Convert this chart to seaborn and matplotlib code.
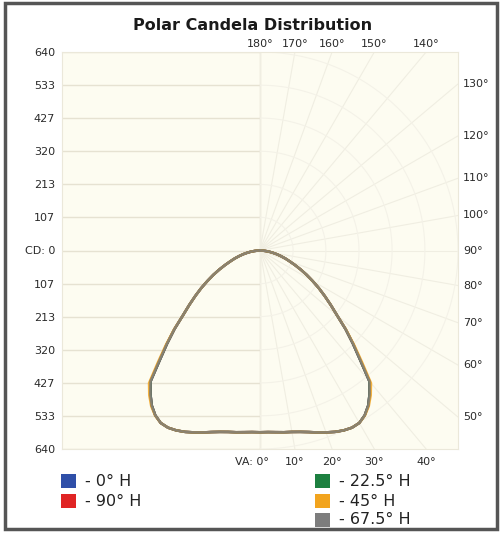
import numpy as np
import pandas as pd
import matplotlib
matplotlib.use('Agg')
import matplotlib.pyplot as plt
import seaborn as sns
from matplotlib.patches import Rectangle

# vertical angles in degrees (0 = straight down, 180 = straight up)
vertical_angles = [0, 2.5, 5, 7.5, 10, 12.5, 15, 17.5, 20, 22.5, 25, 27.5, 30, 32.5, 35, 37.5,
                   40, 42.5, 45, 47.5, 50, 52.5, 55, 57.5, 60, 62.5, 65, 67.5, 70, 72.5, 75,
                   77.5, 80, 82.5, 85, 87.5, 90]

# candela values, one list per horizontal plane
cd_0h = [586, 586, 588, 591, 594, 599, 606, 615, 624, 633, 640, 644, 642, 630, 610, 582,
         550, 480, 425, 375, 325, 288, 255, 225, 196, 170, 145, 122, 102, 86, 70,
         56, 42, 30, 18, 8, 0]
cd_22h = [586, 586, 588, 591, 594, 599, 606, 615, 624, 633, 640, 644, 642, 630, 610, 582,
          550, 480, 425, 375, 325, 288, 255, 225, 196, 170, 145, 122, 102, 86, 70,
          56, 42, 30, 18, 8, 0]
cd_45h = [586, 586, 588, 591, 594, 599, 606, 615, 624, 633, 640, 644, 642, 631, 613, 588,
          558, 488, 430, 377, 325, 288, 255, 225, 196, 170, 145, 122, 102, 86, 70,
          56, 42, 30, 18, 8, 0]
cd_67h = [586, 586, 588, 591, 594, 599, 606, 615, 624, 633, 640, 644, 642, 630, 610, 582,
          550, 480, 425, 375, 325, 288, 255, 225, 196, 170, 145, 122, 102, 86, 70,
          56, 42, 30, 18, 8, 0]
cd_90h = [586, 586, 588, 591, 594, 599, 606, 615, 624, 633, 640, 644, 642, 630, 610, 582,
          550, 480, 425, 375, 325, 288, 255, 225, 196, 170, 145, 122, 102, 86, 70,
          56, 42, 30, 18, 8, 0]

planes = ['0° H', '90° H', '22.5° H', '45° H', '67.5° H']
plane_values = [cd_0h, cd_90h, cd_22h, cd_45h, cd_67h]
plane_colors = ['#2f4fa8', '#e02424', '#1d8040', '#f2a41e', '#7d7d7d']

cd_ticks = [640, 533, 427, 320, 213, 107, 0, -107, -213, -320, -427, -533, -640]
cd_labels = ['640', '533', '427', '320', '213', '107', 'CD: 0', '107', '213', '320', '427', '533', '640']
top_angles = [180, 170, 160, 150, 140]
right_angles = [130, 120, 110, 100, 90, 80, 70, 60, 50]
bottom_angles = [0, 10, 20, 30, 40]

R = 640

# build the closed curve: left half mirrored from the right half
rows = []
for name, vals in zip(planes, plane_values):
    va = np.radians(vertical_angles)
    r = np.array(vals, dtype=float)
    xl = -(r * np.sin(va))[::-1]
    yl = -(r * np.cos(va))[::-1]
    xr = r * np.sin(va)
    yr = -r * np.cos(va)
    xs = np.concatenate([xl, xr])
    ys = np.concatenate([yl, yr])
    for i, (x, y) in enumerate(zip(xs, ys)):
        rows.append({'plane': name, 'order': i, 'x': x, 'y': y})
df = pd.DataFrame(rows)

sns.set_style('white')
plt.rcParams['font.family'] = ['DejaVu Sans']

fig = plt.figure(figsize=(5.0, 5.33), dpi=100)
fig.patch.set_facecolor('white')
ax = fig.add_axes([62 / 500, (533 - 449) / 533, 396 / 500, 397 / 533])
ax.set_facecolor('#fdfcf1')

# left half: horizontal candela lines
ax.hlines(cd_ticks, -R, 0, colors='#e6e2d2', linewidth=1.0, zorder=1)
ax.vlines(0, -R, R, colors='#e4e0d2', linewidth=1.0, zorder=1)

# right half: faint polar grid
for a in range(0, 181, 10):
    t = np.radians(a)
    dx, dy = np.sin(t), -np.cos(t)
    s = R / max(abs(dx), abs(dy))
    ax.plot([0, dx * s], [0, dy * s], color='#f0eee2', linewidth=0.8, zorder=1)
arc = np.radians(np.linspace(0, 180, 200))
for rr in cd_ticks[:6]:
    ax.plot(rr * np.sin(arc), -rr * np.cos(arc), color='#f4f2e8', linewidth=0.8, zorder=1)

sns.lineplot(data=df, x='x', y='y', hue='plane', hue_order=planes, palette=plane_colors,
             units='plane', estimator=None, sort=False, legend=False, linewidth=1.8, ax=ax, zorder=3)
for line in ax.lines[-5:]:
    line.set_alpha(0.85)
    line.set_solid_joinstyle('round')

ax.set_xlim(-R, R)
ax.set_ylim(-R, R)
ax.set_xlabel('')
ax.set_ylabel('')
ax.set_xticks([])
ax.set_yticks(cd_ticks)
ax.set_yticklabels(cd_labels, fontsize=8, color='#2a2a2a')
ax.tick_params(axis='y', length=0, pad=5)
for sp in ax.spines.values():
    sp.set_color('#ebe8da')
    sp.set_linewidth(0.8)

# angle labels where the radial lines meet the box
for a in top_angles:
    x = R * np.tan(np.radians(180 - a))
    ax.annotate(f'{a}°', xy=(x, R), xytext=(0, 3), textcoords='offset pixels',
                ha='center', va='bottom', fontsize=8, color='#2a2a2a', annotation_clip=False)
for a in right_angles:
    y = -R * np.cos(np.radians(a)) / np.sin(np.radians(a))
    ax.annotate(f'{a}°', xy=(R, y), xytext=(5, 0), textcoords='offset pixels',
                ha='left', va='center', fontsize=8, color='#2a2a2a', annotation_clip=False)
for a in bottom_angles:
    x = R * np.tan(np.radians(a))
    if a == 0:
        ax.annotate('VA: 0°', xy=(x, -R), xytext=(9, -8), textcoords='offset pixels',
                    ha='right', va='top', fontsize=8, color='#2a2a2a', annotation_clip=False)
    else:
        ax.annotate(f'{a}°', xy=(x, -R), xytext=(0, -8), textcoords='offset pixels',
                    ha='center', va='top', fontsize=8, color='#2a2a2a', annotation_clip=False)

fig.text(253 / 500, 1 - 25 / 533, 'Polar Candela Distribution', ha='center', va='center',
         fontsize=11.5, fontweight='bold', color='#1a1a1a')

# legend squares and labels
legend_pos = [(61, 481), (61, 501), (315, 481), (315, 501), (315, 520)]
for name, color, (px, py) in zip(planes, plane_colors, legend_pos):
    fig.patches.append(Rectangle((px / 500, 1 - (py + 7) / 533), 15 / 500, 14 / 533,
                                 transform=fig.transFigure, facecolor=color, edgecolor='none'))
    fig.text((px + 24) / 500, 1 - py / 533, f'- {name}', ha='left', va='center',
             fontsize=11.5, color='#222222')

# outer frame
fig.patches.append(Rectangle((5 / 500, 4 / 533), 492 / 500, 526 / 533, transform=fig.transFigure,
                             facecolor='none', edgecolor='#555555', linewidth=2.5, zorder=10))

fig.savefig('out.png', dpi=100)
